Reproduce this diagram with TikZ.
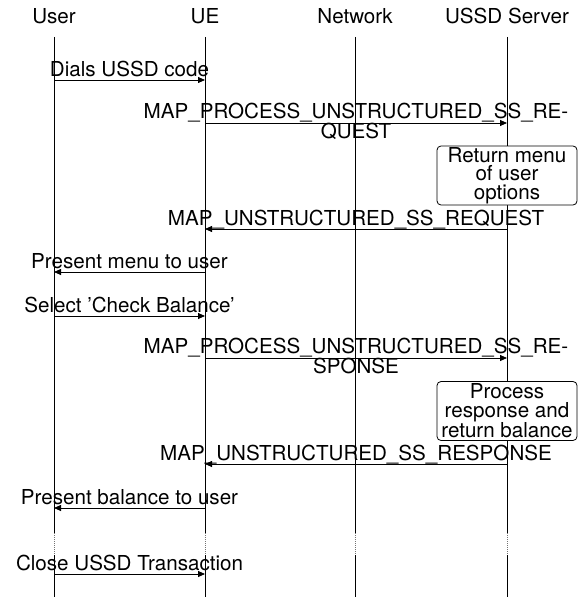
\documentclass[tikz,border=0pt]{standalone}
\usepackage{fontspec}
\setmainfont{TeX Gyre Heros}
\usetikzlibrary{arrows.meta}
\begin{document}
\begin{tikzpicture}[x=1pt,y=-1pt,
  txt/.style={font=\fontsize{20.6}{18.7}\selectfont, inner sep=0pt, align=center},
  head/.style={txt, anchor=base},
  lifeline/.style={line width=0.8pt, draw=black},
  gapline/.style={line width=0.8pt, draw=black!55, dash pattern=on 1pt off 1pt},
  msg/.style={line width=0.8pt, draw=black, -{Triangle[length=7pt,width=6pt]}},
  lab/.style={txt, anchor=base, yshift=3.5pt},
  labtwo/.style={txt, anchor=base, yshift=-15.2pt},
  note/.style={txt, draw=black, fill=white, rounded corners=4pt, line width=0.8pt,
    minimum width=140pt, minimum height=59pt}]

\useasboundingbox (0,0) rectangle (582,599);

% participants
\node[head] (hUser) at (54,24)  {User};
\node[head] (hUE)   at (205,24) {UE};
\node[head] (hNet)  at (355,24) {Network};
\node[head] (hSrv)  at (507,24) {USSD Server};

% lifelines, with a dotted stretch before the last message
\foreach \n/\x in {User/54, UE/205, Net/355, Srv/507} {
  \coordinate (\n-top)  at (\x,37);
  \coordinate (\n-gapA) at (\x,533);
  \coordinate (\n-gapB) at (\x,555);
  \coordinate (\n-end)  at (\x,597);
  \draw[lifeline] (\n-top) -- (\n-gapA);
  \draw[gapline]  (\n-gapA) -- (\n-gapB);
  \draw[lifeline] (\n-gapB) -- (\n-end);
}

% messages
\draw[msg] (User-top |- 0,80) -- node[lab] (m1) {Dials USSD code} (UE-top |- 0,80);
\draw[msg] (UE-top |- 0,123) -- node[labtwo] (m2) {MAP\_PROCESS\_UNSTRUCTURED\_SS\_RE-\\QUEST} (Srv-top |- 0,123);
\node[note] (n1) at (507,175.5) {Return menu\\of user\\options};
\draw[msg] (Srv-top |- 0,229) -- node[lab] (m3) {MAP\_UNSTRUCTURED\_SS\_REQUEST} (UE-top |- 0,229);
\draw[msg] (UE-top |- 0,272) -- node[lab] (m4) {Present menu to user} (User-top |- 0,272);
\draw[msg] (User-top |- 0,316) -- node[lab] (m5) {Select 'Check Balance'} (UE-top |- 0,316);
\draw[msg] (UE-top |- 0,358) -- node[labtwo] (m6) {MAP\_PROCESS\_UNSTRUCTURED\_SS\_RE-\\SPONSE} (Srv-top |- 0,358);
\node[note] (n2) at (507,411) {Process\\response and\\return balance};
\draw[msg] (Srv-top |- 0,464) -- node[lab] (m7) {MAP\_UNSTRUCTURED\_SS\_RESPONSE} (UE-top |- 0,464);
\draw[msg] (UE-top |- 0,508) -- node[lab] (m8) {Present balance to user} (User-top |- 0,508);
\draw[msg] (User-top |- 0,574) -- node[lab] (m9) {Close USSD Transaction} (UE-top |- 0,574);
\end{tikzpicture}
\end{document}
